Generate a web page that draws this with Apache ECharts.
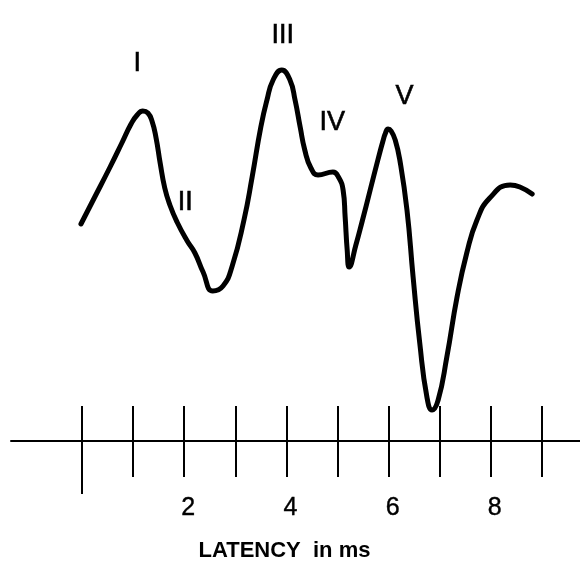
<!DOCTYPE html>
<html>
<head>
<meta charset="utf-8">
<script src="https://cdn.jsdelivr.net/npm/echarts@6/dist/echarts.min.js"></script>
<style>
html,body{margin:0;padding:0;background:#fff;}
#chart{width:580px;height:571px;}
</style>
</head>
<body>
<div id="chart"></div>
<script>
// Latency (ms) and amplitude (arbitrary units, 0 = axis line)
var latency = [-0.02,0.22,0.55,0.78,0.96,1.08,1.19,1.29,1.37,1.45,1.53,1.62,1.72,1.86,2.06,2.21,2.37,2.56,2.76,2.94,3.17,3.33,3.50,3.62,3.74,3.91,4.07,4.17,4.27,4.36,4.48,4.62,4.91,5.03,5.11,5.15,5.19,5.23,5.36,5.48,5.64,5.79,5.89,5.94,5.99,6.05,6.13,6.22,6.36,6.48,6.61,6.75,6.85,6.97,7.14,7.34,7.53,7.73,7.98,8.38,8.57,8.81];
var amplitude = [2.17,2.41,2.74,2.98,3.17,3.26,3.30,3.28,3.20,3.03,2.78,2.53,2.36,2.19,2.00,1.88,1.69,1.50,1.55,1.75,2.21,2.64,3.14,3.41,3.61,3.71,3.61,3.41,3.14,2.91,2.73,2.66,2.69,2.63,2.51,2.24,1.91,1.74,1.96,2.19,2.51,2.81,3.00,3.08,3.12,3.10,3.01,2.81,2.31,1.64,0.98,0.44,0.31,0.41,0.84,1.44,1.88,2.21,2.43,2.56,2.54,2.47];

var waveNames = ['I','II','III','IV','V'];
var waveLabelX = [1.08,2.02,3.93,4.90,6.31];
var waveLabelY = [3.77,2.38,4.05,3.18,3.44];

var tickValues = [0,1,2,3,4,5,6,7,8,9];
var labelValues = [2,4,6,8];
var axisName = 'LATENCY  in ms';

var lineData = latency.map(function(x,i){return [x, amplitude[i]];});
var waveData = waveNames.map(function(n,i){return {value:[waveLabelX[i], waveLabelY[i]], name:n};});

var AX_MIN = -1.389, AX_MAX = 9.746;
var ink = '#000';

var chart = echarts.init(document.getElementById('chart'), null, {renderer:'canvas'});
chart.setOption({
  animation: false,
  backgroundColor: '#fff',
  grid: {left: 11, right: 0, top: 0, bottom: 130, containLabel: false},
  xAxis: [
    {
      type: 'value', min: AX_MIN, max: AX_MAX, position: 'bottom',
      axisLine: {show: true, onZero: false, lineStyle: {color: ink, width: 2}},
      axisTick: {show: true, inside: true, length: 35, customValues: tickValues, lineStyle: {color: ink, width: 2}},
      axisLabel: {show: true, customValues: labelValues, margin: 55, color: ink, fontSize: 25,
        fontFamily: 'Liberation Sans', padding: [0,0,0,8], textBorderColor: ink, textBorderWidth: 0.4},
      splitLine: {show: false},
      name: axisName, nameLocation: 'middle', nameGap: 99,
      nameTextStyle: {color: ink, fontSize: 22, fontWeight: 'bold', fontFamily: 'Liberation Sans', padding: [0,22,0,0]}
    },
    {
      type: 'value', min: AX_MIN, max: AX_MAX, position: 'bottom',
      axisLine: {show: false, onZero: false},
      axisTick: {show: true, inside: false, length: 36, customValues: tickValues.slice(1), lineStyle: {color: ink, width: 2}},
      axisLabel: {show: false},
      splitLine: {show: false}
    },
    {
      type: 'value', min: AX_MIN, max: AX_MAX, position: 'bottom',
      axisLine: {show: false, onZero: false},
      axisTick: {show: true, inside: false, length: 53, customValues: [tickValues[0]], lineStyle: {color: ink, width: 2}},
      axisLabel: {show: false},
      splitLine: {show: false}
    }
  ],
  yAxis: {type: 'value', min: 0, max: 4.41, show: false, splitLine: {show: false}},
  series: [
    {
      type: 'line', xAxisIndex: 0, data: lineData, smooth: 0.5,
      showSymbol: false, symbol: 'none',
      lineStyle: {color: '#000', width: 5, cap: 'round', join: 'round'}, silent: true
    },
    {
      type: 'scatter', xAxisIndex: 0, data: waveData, symbolSize: 0, clip: false,
      itemStyle: {color: '#000', opacity: 1}, silent: true,
      label: {show: true, position: 'inside', formatter: '{b}', color: '#000', opacity: 1, fontSize: 27,
        fontFamily: 'Liberation Sans', textBorderColor: '#000', textBorderWidth: 0.6}
    }
  ]
});
</script>
</body>
</html>
